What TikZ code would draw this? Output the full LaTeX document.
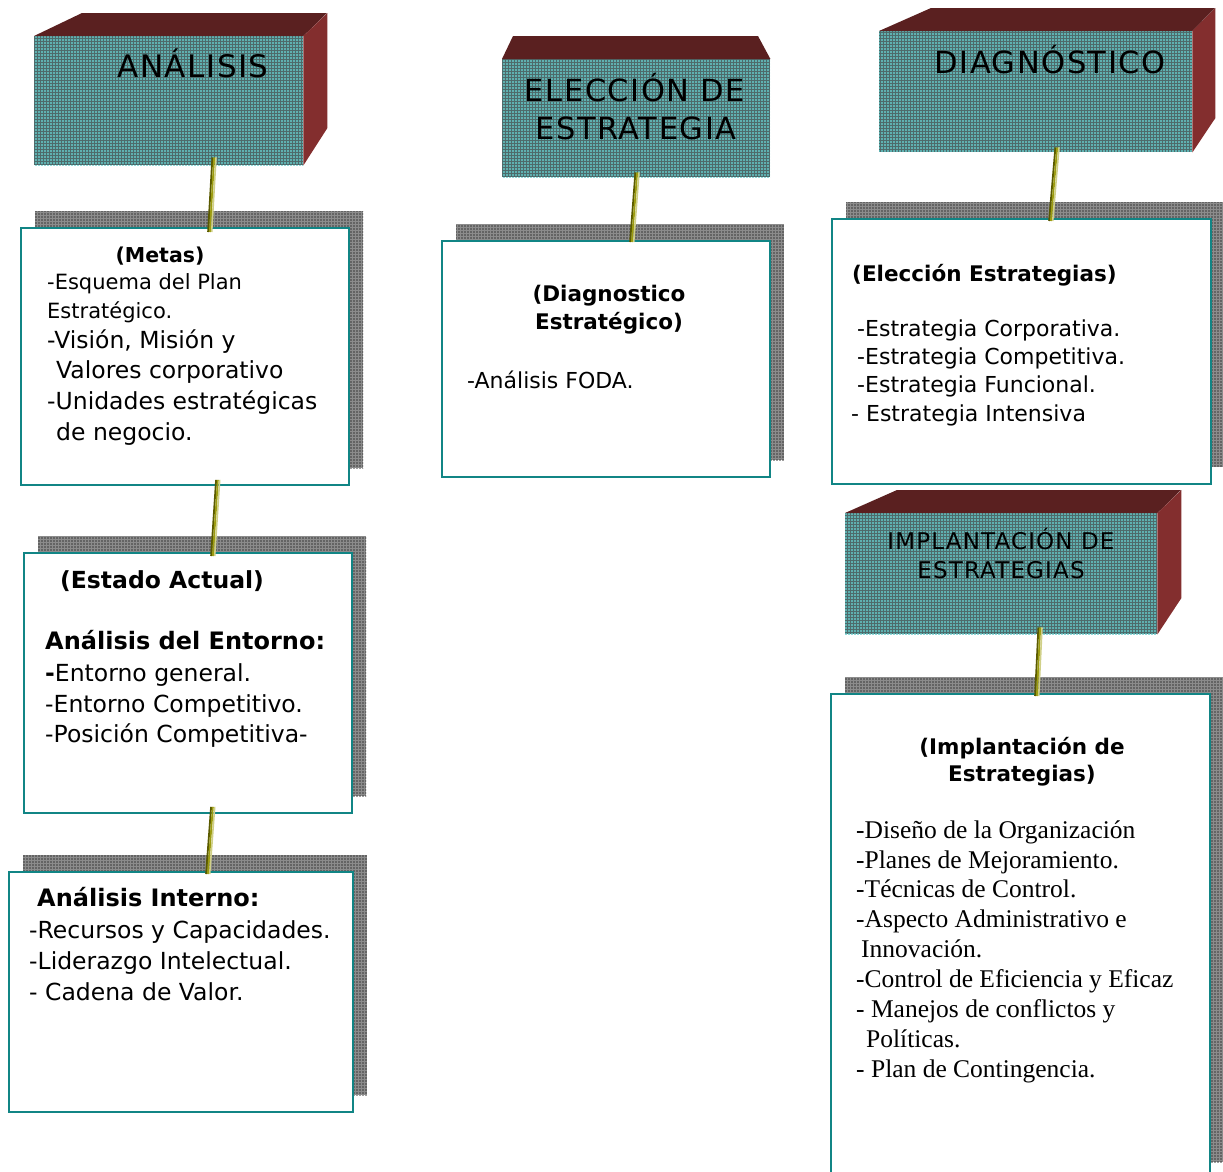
\documentclass[tikz,border=0pt]{standalone}
\usepackage{fontspec}
\setmainfont{DejaVu Sans}
\newfontfamily\hdfont[LetterSpace=5]{DejaVu Sans}
\newfontfamily\srffont{Liberation Serif}
\usetikzlibrary{patterns.meta}
\definecolor{faceBase}{HTML}{4E6A6A}
\definecolor{faceDot}{HTML}{66CCCC}
\definecolor{shBase}{HTML}{8C8C8C}
\definecolor{shDot}{HTML}{3C3C3C}
\definecolor{topFace}{HTML}{5A2020}
\definecolor{sideFace}{HTML}{832E2E}
\definecolor{boxTeal}{HTML}{118585}
\definecolor{cnA}{HTML}{5A5A00}
\definecolor{cnB}{HTML}{9C9C10}
\definecolor{cnC}{HTML}{D0D088}
\newcommand\myconn[2]{%
  \draw[cnA, line width=1.8pt, transform canvas={xshift=-1.8pt}] (#1) -- (#2);
  \draw[cnB, line width=1.8pt] (#1) -- (#2);
  \draw[cnC, line width=1.6pt, transform canvas={xshift=1.8pt}] (#1) -- (#2);}
\begin{document}
\begin{tikzpicture}[x=1pt,y=-1pt,
  face/.style={inner sep=0pt, anchor=north west, preaction={fill=faceBase},
    pattern={Dots[distance=3pt,radius=1.15pt]}, pattern color=faceDot},
  shadowbox/.style={preaction={fill=shBase},
    pattern={Dots[distance=3pt,radius=0.8pt]}, pattern color=shDot},
  tbox/.style={draw=boxTeal, line width=1.8pt, fill=white, inner sep=0pt, anchor=north west},
  topf/.style={fill=topFace},
  sidef/.style={fill=sideFace},
  hd/.style={anchor=mid, inner sep=0pt, yshift=-6pt, font=\hdfont\fontsize{#1}{#1}\selectfont},
  ln/.style={anchor=mid west, inner sep=0pt, yshift=-6pt, font=\fontsize{#1}{#1}\selectfont},
  lnb/.style={anchor=mid west, inner sep=0pt, yshift=-6pt, font=\bfseries\fontsize{#1}{#1}\selectfont},
  lnc/.style={anchor=mid, inner sep=0pt, yshift=-6pt, font=\bfseries\fontsize{#1}{#1}\selectfont},
  lns/.style={anchor=mid west, inner sep=0pt, yshift=-6pt, font=\srffont\fontsize{#1}{#1}\selectfont}]
\useasboundingbox (0,0) rectangle (1223,1171);
\clip (0,0) rectangle (1223,1171);

% ---------- header boxes ----------
\node[face, minimum width=269pt, minimum height=129pt] (analisis) at (34,36) {};
\fill[topf] (analisis.north west) -- ++(48,-23) -- ++(245,0) -- (analisis.north east) -- cycle;
\fill[sidef] (analisis.north east) -- ++(24,-23) -- ++(0,115) -- (analisis.south east) -- cycle;
\node[hd=31] (analisisT) at (193,69) {ANÁLISIS};

\node[face, minimum width=268pt, minimum height=118pt] (eleccion) at (502,59) {};
\fill[topf] (eleccion.north west) -- ++(11,-23) -- ++(245,0) -- (eleccion.north east) -- cycle;
\node[hd=30.5] (eleccionT1) at (635,93) {ELECCIÓN DE};
\node[hd=30.5] (eleccionT2) at (636,131) {ESTRATEGIA};

\node[face, minimum width=313pt, minimum height=121pt] (diagnostico) at (879,31) {};
\fill[topf] (diagnostico.north west) -- ++(52,-23) -- ++(284,0) -- (diagnostico.north east) -- cycle;
\fill[sidef] (diagnostico.north east) -- ++(23,-23) -- ++(0,110) -- (diagnostico.south east) -- cycle;
\node[hd=30.5] (diagnosticoT) at (1050,65) {DIAGNÓSTICO};

\node[face, minimum width=312pt, minimum height=121pt] (implant) at (845,513) {};
\fill[topf] (implant.north west) -- ++(52,-23) -- ++(284,0) -- (implant.north east) -- cycle;
\fill[sidef] (implant.north east) -- ++(24,-23) -- ++(0,108) -- (implant.south east) -- cycle;
\node[hd=23] (implantT1) at (1001,541) {IMPLANTACIÓN DE};
\node[hd=23] (implantT2) at (1001,570) {ESTRATEGIAS};

% ---------- text boxes with shadows ----------
\path[shadowbox] (35,211) rectangle ++(328,257);
\node[tbox, minimum width=328pt, minimum height=257pt] (metas) at (20,227) {};
\node[lnc=20.5] (m0) at (160,254) {(Metas)};
\node[ln=21] (m1) at (47,281) {-Esquema del Plan};
\node[ln=21] (m2) at (47,310) {Estratégico.};
\node[ln=23.5] (m3) at (47,340) {-Visión, Misión y};
\node[ln=23.5] (m4) at (56,370) {Valores corporativo};
\node[ln=23.5] (m5) at (47,401) {-Unidades estratégicas};
\node[ln=23.5] (m6) at (56,432) {de negocio.};

\path[shadowbox] (38,536) rectangle ++(328,260);
\node[tbox, minimum width=328pt, minimum height=260pt] (estado) at (23,552) {};
\node[lnb=23.5] (e0) at (60,580) {(Estado Actual)};
\node[lnb=24] (e1) at (45,641) {Análisis del Entorno:};
\node[ln=23.5] (e2) at (45,673) {\textbf{-}Entorno general.};
\node[ln=23.5] (e3) at (45,704) {-Entorno Competitivo.};
\node[ln=23.5] (e4) at (45,734) {-Posición Competitiva-};

\path[shadowbox] (23,855) rectangle ++(344,240);
\node[tbox, minimum width=344pt, minimum height=240pt] (interno) at (8,871) {};
\node[lnb=24] (i0) at (37,898) {Análisis Interno:};
\node[ln=23.5] (i1) at (29,930) {-Recursos y Capacidades.};
\node[ln=23.5] (i2) at (29,961) {-Liderazgo Intelectual.};
\node[ln=23.5] (i3) at (29,992) {- Cadena de Valor.};

\path[shadowbox] (456,224) rectangle ++(328,236);
\node[tbox, minimum width=328pt, minimum height=236pt] (diagest) at (441,240) {};
\node[lnc=21.5] (d0) at (609,293) {(Diagnostico};
\node[lnc=21.5] (d1) at (609,321) {Estratégico)};
\node[ln=22] (d2) at (467,380) {-Análisis FODA.};

\path[shadowbox] (846,202) rectangle ++(379,265);
\node[tbox, minimum width=379pt, minimum height=265pt] (elecest) at (831,218) {};
\node[lnb=21.5] (s0) at (852,273) {(Elección Estrategias)};
\node[ln=22] (s1) at (857,328) {-Estrategia Corporativa.};
\node[ln=22] (s2) at (857,356) {-Estrategia Competitiva.};
\node[ln=22] (s3) at (857,384) {-Estrategia Funcional.};
\node[ln=22] (s4) at (851,413) {- Estrategia Intensiva};

\path[shadowbox] (845,677) rectangle ++(379,485);
\node[tbox, minimum width=379pt, minimum height=485pt] (implest) at (830,693) {};
\node[lnc=21.5] (p0) at (1022,746) {(Implantación de};
\node[lnc=21.5] (p1) at (1022,773) {Estrategias)};
\node[lns=25.5] (p2) at (856,830) {-Diseño de la Organización};
\node[lns=25.5] (p3) at (856,860) {-Planes de Mejoramiento.};
\node[lns=25.5] (p4) at (856,889) {-Técnicas de Control.};
\node[lns=25.5] (p5) at (856,919) {-Aspecto Administrativo e};
\node[lns=25.5] (p6) at (861,949) {Innovación.};
\node[lns=25.5] (p7) at (856,979) {-Control de Eficiencia y Eficaz};
\node[lns=25.5] (p8) at (856,1009) {- Manejos de conflictos y};
\node[lns=25.5] (p9) at (866,1039) {Políticas.};
\node[lns=25.5] (p10) at (856,1069) {- Plan de Contingencia.};

% ---------- connectors ----------
\coordinate (c1t) at ([xshift=45.5pt,yshift=8pt]analisis.south);
\coordinate (c1b) at ([xshift=25pt,yshift=-5pt]metas.north);
\coordinate (c2t) at ([xshift=33pt,yshift=6pt]metas.south);
\coordinate (c2b) at ([xshift=25pt,yshift=-4pt]estado.north);
\coordinate (c3t) at ([xshift=25pt,yshift=7pt]estado.south);
\coordinate (c3b) at ([xshift=27pt,yshift=-3pt]interno.north);
\coordinate (c4t) at ([xshift=1pt,yshift=5pt]eleccion.south);
\coordinate (c4b) at ([xshift=26pt,yshift=-2pt]diagest.north);
\coordinate (c5t) at ([xshift=21.5pt,yshift=5pt]diagnostico.south);
\coordinate (c5b) at ([xshift=29.5pt,yshift=-3pt]elecest.north);
\coordinate (c6t) at ([xshift=39pt,yshift=7pt]implant.south);
\coordinate (c6b) at ([xshift=16.5pt,yshift=-3pt]implest.north);
\myconn{c1t}{c1b}
\myconn{c2t}{c2b}
\myconn{c3t}{c3b}
\myconn{c4t}{c4b}
\myconn{c5t}{c5b}
\myconn{c6t}{c6b}
\end{tikzpicture}
\end{document}
